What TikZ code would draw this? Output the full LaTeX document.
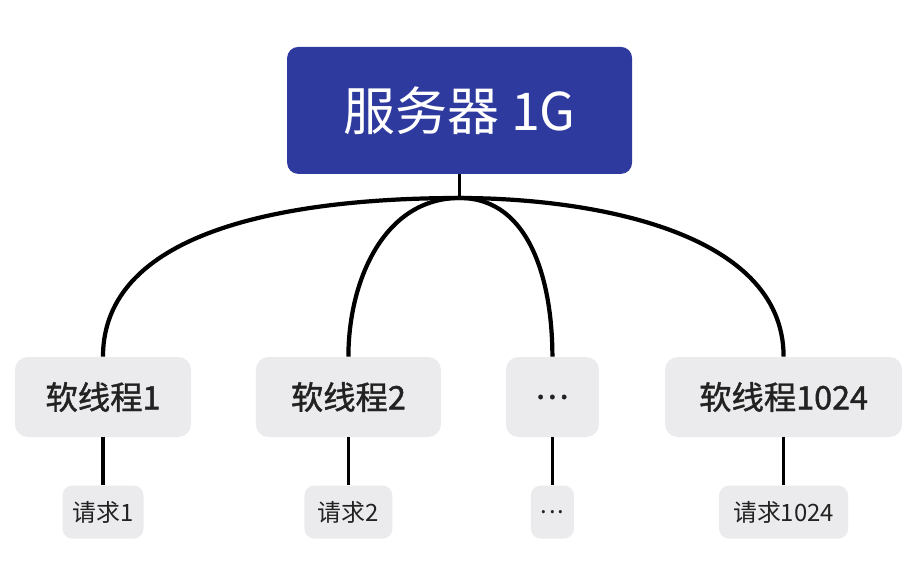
\documentclass[tikz,border=0pt]{standalone}
\usepackage{fontspec}
\setmainfont{Noto Sans CJK SC}
\newfontfamily\medfont{Noto Sans CJK SC}[RawFeature={embolden=1.3}]
\usepackage{tikz}
\usetikzlibrary{positioning}

\definecolor{serverblue}{HTML}{2F3A9E}
\definecolor{boxgray}{HTML}{EBEBED}
\definecolor{textdark}{HTML}{222222}

\begin{document}
\begin{tikzpicture}[
  server/.style={fill=serverblue, rounded corners=8pt, text=white, align=center,
    minimum width=8.625cm, minimum height=3.175cm, font=\fontsize{37}{40}\selectfont},
  thread/.style={fill=boxgray, rounded corners=9pt, text=textdark, align=center,
    minimum height=2cm, font=\medfont\fontsize{23}{26}\selectfont},
  request/.style={fill=boxgray, rounded corners=7pt, text=textdark, align=center,
    minimum height=1.325cm, font=\fontsize{17}{20}\selectfont},
  branch/.style={line width=3pt, black},
  stem/.style={line width=2.2pt, black}
]
\useasboundingbox (0,0) rectangle (23.075,14.25);

\node[server] (server) at (11.49,11.49) {服务器 1G};
\coordinate (junc) at (11.49,9.3);

\node[thread, minimum width=4.4cm] (thread1) at (2.575,4.325) {软线程1};
\node[thread, minimum width=4.625cm] (thread2) at (8.71,4.325) {软线程2};
\node[thread, minimum width=2.325cm] (thread3) at (13.81,4.325) {.\kern2pt.\kern2pt.};
\node[thread, minimum width=5.925cm] (thread4) at (19.59,4.325) {软线程1024};

\node[request, minimum width=2.025cm, below=1.2cm of thread1] (req1) {请求1};
\node[request, minimum width=2.2cm, below=1.2cm of thread2] (req2) {请求2};
\node[request, minimum width=1.075cm, below=1.2cm of thread3] (req3) {.\kern1.5pt.\kern1.5pt.};
\node[request, minimum width=3.225cm, below=1.2cm of thread4] (req4) {请求1024};

\draw[stem] (server.south) -- (junc);
\draw[branch] (junc) to[out=180, in=90, looseness=0.9] (thread1.north);
\draw[branch] (junc) to[out=180, in=90] (thread2.north);
\draw[branch] (junc) to[out=0, in=90] (thread3.north);
\draw[branch] (junc) to[out=0, in=90, looseness=0.9] (thread4.north);

\draw[stem] (thread1) -- (req1);
\draw[stem] (thread2) -- (req2);
\draw[stem] (thread3) -- (req3);
\draw[stem] (thread4) -- (req4);
\end{tikzpicture}
\end{document}
